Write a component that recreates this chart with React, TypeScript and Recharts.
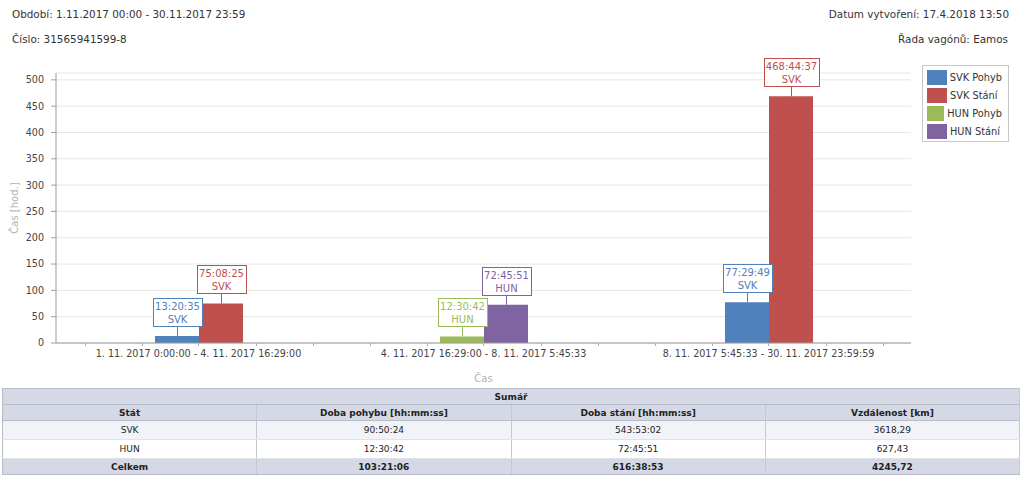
import React from 'react';
import { BarChart, Bar, XAxis, YAxis, CartesianGrid, Legend, LabelList } from 'recharts';

const CATEGORIES = [
  '1. 11. 2017 0:00:00 - 4. 11. 2017 16:29:00',
  '4. 11. 2017 16:29:00 - 8. 11. 2017 5:45:33',
  '8. 11. 2017 5:45:33 - 30. 11. 2017 23:59:59',
];

// hours
const SVK_POHYB = [13.343, 0, 77.497];
const SVK_STANI = [75.14, 0, 468.744];
const HUN_POHYB = [0, 12.512, 0];
const HUN_STANI = [0, 72.764, 0];

const SVK_POHYB_LABELS = ['13:20:35', '', '77:29:49'];
const SVK_STANI_LABELS = ['75:08:25', '', '468:44:37'];
const HUN_POHYB_LABELS = ['', '12:30:42', ''];
const HUN_STANI_LABELS = ['', '72:45:51', ''];

const Y_TICKS = [0, 50, 100, 150, 200, 250, 300, 350, 400, 450, 500];
const Y_MAX = 513;
const MINOR_TICKS: number[] = [];
for (let v = 0; v <= 510; v += 10) MINOR_TICKS.push(v);

const TABLE_TITLE = 'Sumář';
const TABLE_HEAD = ['Stát', 'Doba pohybu [hh:mm:ss]', 'Doba stání [hh:mm:ss]', 'Vzdálenost [km]'];
const TABLE_ROWS = [
  ['SVK', '90:50:24', '543:53:02', '3618,29'],
  ['HUN', '12:30:42', '72:45:51', '627,43'],
];
const TABLE_TOTAL = ['Celkem', '103:21:06', '616:38:53', '4245,72'];

const SERIES = [
  { key: 'svkPohyb', name: 'SVK Pohyb', color: '#4f81bd', stack: 'pohyb', values: SVK_POHYB, labels: SVK_POHYB_LABELS, country: 'SVK' },
  { key: 'svkStani', name: 'SVK Stání', color: '#c0504d', stack: 'stani', values: SVK_STANI, labels: SVK_STANI_LABELS, country: 'SVK' },
  { key: 'hunPohyb', name: 'HUN Pohyb', color: '#9bbb59', stack: 'pohyb', values: HUN_POHYB, labels: HUN_POHYB_LABELS, country: 'HUN' },
  { key: 'hunStani', name: 'HUN Stání', color: '#8064a2', stack: 'stani', values: HUN_STANI, labels: HUN_STANI_LABELS, country: 'HUN' },
];

const data = CATEGORIES.map((name, i) => ({
  name,
  svkPohyb: SVK_POHYB[i],
  svkStani: SVK_STANI[i],
  hunPohyb: HUN_POHYB[i],
  hunStani: HUN_STANI[i],
}));

const FONT = '"DejaVu Sans", Verdana, sans-serif';

const makeLabel = (values: number[], labels: string[], country: string, color: string) => (props: any) => {
  const { x, y, width } = props;
  let v = props.value;
  if (Array.isArray(v)) v = v[1] - v[0];
  if (!v) return null;
  const idx = values.findIndex((d) => Math.abs(d - v) < 1e-6);
  const text = idx >= 0 ? labels[idx] : '';
  if (!text) return null;
  const cx = Math.round(x + width / 2) + 0.5;
  const w = text.length * 6 + 1;
  const h = 28;
  const bottom = Math.round(y) - 10 + 0.5;
  const top = bottom - h;
  return (
    <g>
      <line x1={cx} x2={cx} y1={bottom} y2={y} stroke={color} />
      <rect x={Math.round(cx - w / 2) + 0.5} y={top} width={w} height={h} fill="#fff" stroke={color} />
      <text x={cx} y={top + 11} textAnchor="middle" fill={color} fontSize={10} fontFamily={FONT}>
        {text}
      </text>
      <text x={cx} y={top + 24.5} textAnchor="middle" fill={color} fontSize={10} fontFamily={FONT}>
        {country}
      </text>
    </g>
  );
};

const XTick = (props: any) => {
  const { x, y, payload } = props;
  const band = payload && payload.offset ? payload.offset * 2 : 285;
  const axisY = y - 7;
  const minors = [-2, -1, 1, 2];
  return (
    <g>
      {minors.map((k) => {
        const mx = Math.round(x + (k * band) / 5) + 0.5;
        return <line key={k} x1={mx} x2={mx} y1={axisY} y2={axisY + 3} stroke="#b0b0b0" />;
      })}
      <text x={x} y={y} dy="0.71em" textAnchor="middle" fill="#444" fontSize={9.6} fontFamily={FONT}>
        {payload.value}
      </text>
    </g>
  );
};

const renderLegend = () => (
  <div
    style={{
      border: '1px solid #c8c8c8',
      background: '#fff',
      padding: '2px 6px 1px 4px',
      fontFamily: FONT,
      fontSize: 9.8,
      color: '#333',
      width: 75,
    }}
  >
    {SERIES.map((s) => (
      <div key={s.key} style={{ display: 'flex', alignItems: 'center', height: 18 }}>
        <span style={{ display: 'inline-block', width: 20, height: 15, background: s.color, marginRight: 3 }} />
        <span style={{ whiteSpace: 'nowrap' }}>{s.name}</span>
      </div>
    ))}
  </div>
);

const cellBase: React.CSSProperties = {
  borderRight: '1px solid #c4c8d2',
  borderBottom: '1px solid #b8bcc8',
  textAlign: 'center',
  padding: 0,
  width: '25%',
};

export default function App() {
  return (
    <div
      style={{
        position: 'absolute',
        left: 0,
        top: 0,
        width: 1024,
        height: 483,
        background: '#fff',
        fontFamily: FONT,
        color: '#333',
        overflow: 'hidden',
      }}
    >
      <div style={{ position: 'absolute', left: 12, top: 8, fontSize: 10.4, lineHeight: '12px' }}>
        Období: 1.11.2017 00:00 - 30.11.2017 23:59
      </div>
      <div style={{ position: 'absolute', left: 12, top: 33, fontSize: 10.4, lineHeight: '12px' }}>
        Číslo: 31565941599-8
      </div>
      <div style={{ position: 'absolute', right: 15, top: 8, fontSize: 10.4, lineHeight: '12px' }}>
        Datum vytvoření: 17.4.2018 13:50
      </div>
      <div style={{ position: 'absolute', right: 16, top: 33, fontSize: 10.4, lineHeight: '12px' }}>
        Řada vagónů: Eamos
      </div>

      <div style={{ position: 'absolute', left: 0, top: 0 }}>
        <BarChart
          width={1024}
          height={390}
          data={data}
          margin={{ top: 73, right: 26, bottom: 0, left: 0 }}
          barSize={44}
          barGap={0}
        >
          <CartesianGrid vertical={false} stroke="#e6e6e6" />
          <XAxis
            dataKey="name"
            height={47}
            tick={<XTick />}
            tickSize={3}
            tickMargin={4}
            tickLine={{ stroke: '#b0b0b0' }}
            axisLine={{ stroke: '#9a9a9a' }}
            interval={0}
            label={{ value: 'Čas', position: 'insideBottom', offset: 8, fill: '#b4b4b4', fontSize: 10, fontFamily: FONT }}
          />
          <XAxis xAxisId="top" dataKey="name" orientation="top" height={0} tick={false} tickLine={false} axisLine={{ stroke: '#d4d4d4' }} />
          <YAxis
            domain={[0, Y_MAX]}
            ticks={Y_TICKS}
            width={56}
            tickSize={5}
            tickMargin={7}
            tick={{ fill: '#444', fontSize: 9.6, fontFamily: FONT }}
            tickLine={{ stroke: '#a0a0a0' }}
            axisLine={{ stroke: '#9a9a9a' }}
            allowDataOverflow
            label={{
              value: 'Čas [hod.]',
              angle: -90,
              position: 'insideLeft',
              offset: 14,
              fill: '#b4b4b4',
              fontSize: 10,
              fontFamily: FONT,
              style: { textAnchor: 'middle' },
            }}
          />
          <YAxis
            yAxisId="minor"
            domain={[0, Y_MAX]}
            ticks={MINOR_TICKS}
            width={0}
            tick={false}
            tickSize={2}
            tickLine={{ stroke: '#c0c0c0' }}
            axisLine={false}
            allowDataOverflow
          />
          <YAxis yAxisId="right" orientation="right" domain={[0, Y_MAX]} width={0} tick={false} tickLine={false} axisLine={{ stroke: '#d4d4d4' }} />
          <Legend
            layout="vertical"
            verticalAlign="top"
            align="right"
            content={renderLegend}
            wrapperStyle={{ top: 65, left: 922, right: 'auto', width: 'auto' }}
          />
          {SERIES.map((s) => (
            <Bar key={s.key} dataKey={s.key} name={s.name} fill={s.color} stackId={s.stack} isAnimationActive={false}>
              <LabelList dataKey={s.key} content={makeLabel(s.values, s.labels, s.country, s.color)} />
            </Bar>
          ))}
        </BarChart>
      </div>

      <table
        style={{
          position: 'absolute',
          left: 2,
          top: 388,
          width: 1018,
          borderCollapse: 'collapse',
          tableLayout: 'fixed',
          fontFamily: FONT,
          fontSize: 9,
          color: '#222',
          border: '1px solid #b8bcc8',
        }}
      >
        <tbody>
          <tr style={{ background: '#d5d9e5', height: 16 }}>
            <td colSpan={4} style={{ ...cellBase, fontWeight: 'bold' }}>
              {TABLE_TITLE}
            </td>
          </tr>
          <tr style={{ background: '#d5d9e5', height: 16 }}>
            {TABLE_HEAD.map((h) => (
              <td key={h} style={{ ...cellBase, fontWeight: 'bold' }}>
                {h}
              </td>
            ))}
          </tr>
          {TABLE_ROWS.map((r, i) => (
            <tr key={r[0]} style={{ background: i === 0 ? '#f1f3f9' : '#fff', height: 19 }}>
              {r.map((c, j) => (
                <td key={j} style={{ ...cellBase, borderBottom: '1px solid #e0e2e8' }}>
                  {c}
                </td>
              ))}
            </tr>
          ))}
          <tr style={{ background: '#d5d9e5', height: 16 }}>
            {TABLE_TOTAL.map((c, j) => (
              <td key={j} style={{ ...cellBase, fontWeight: 'bold' }}>
                {c}
              </td>
            ))}
          </tr>
        </tbody>
      </table>
    </div>
  );
}
